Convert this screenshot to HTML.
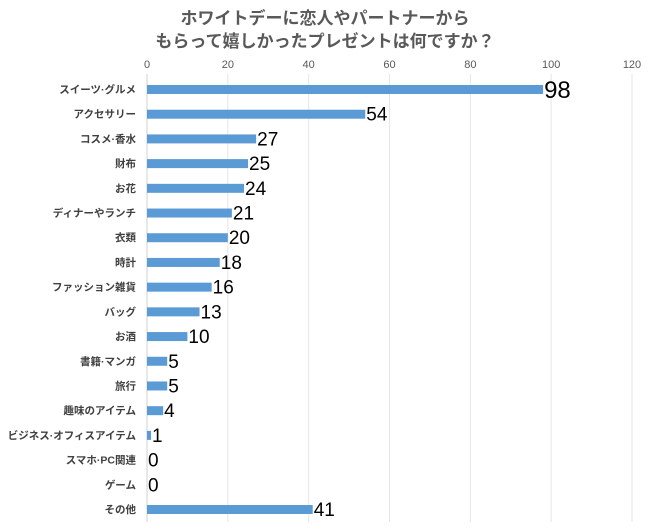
<!DOCTYPE html>
<html><head><meta charset="utf-8"><style>
body{margin:0;background:#fff}
svg{display:block;font-family:"Liberation Sans","Noto Sans CJK JP",sans-serif}
</style></head><body>
<svg id="c" width="650" height="530">
<text x="325" y="24" text-anchor="middle" font-size="17" font-weight="bold" fill="#595959">ホワイトデーに恋人やパートナーから</text>
<text x="325" y="47" text-anchor="middle" font-size="17" font-weight="bold" fill="#595959">もらって嬉しかったプレゼントは何ですか？</text>
<g id="grid"></g><g id="bars"></g>
</svg>
<script>
const categories=["スイーツ·グルメ","アクセサリー","コスメ·香水","財布","お花","ディナーやランチ","衣類","時計","ファッション雑貨","バッグ","お酒","書籍·マンガ","旅行","趣味のアイテム","ビジネス·オフィスアイテム","スマホ·PC関連","ゲーム","その他"];
const values=[98,54,27,25,24,21,20,18,16,13,10,5,5,4,1,0,0,41];
const ticks=[0,20,40,60,80,100,120];
const NS="http://www.w3.org/2000/svg";
const x0=147,x1=632,xmax=120;
const xs=v=>x0+(x1-x0)*v/xmax;
const y0=89,step=(509-89)/17;
const ys=i=>y0+i*step;
function mk(t,a,p){const e=document.createElementNS(NS,t);for(const k in a)e.setAttribute(k,a[k]);p.appendChild(e);return e;}
const g=document.getElementById('grid'),b=document.getElementById('bars');
ticks.forEach(t=>{
 const l=mk('line',{x1:xs(t),x2:xs(t),y1:74,y2:522,stroke:t===0?'#d0d0d0':'#e6e6e6','stroke-width':1},g);
 
 
 const tx=mk('text',{x:xs(t),y:68,'text-anchor':'middle','font-size':11,fill:'#595959'},g);
 tx.textContent=t;
 
 
});
categories.forEach((c,i)=>{
 const y=ys(i);
 const lb=mk('text',{x:136,y:y+4,'text-anchor':'end','font-size':10.5,'font-weight':'bold',fill:'#404040'},b);
 lb.textContent=c;
 
 
 const r=mk('rect',{x:x0,y:y-4,width:Math.max(0,xs(values[i])-x0),height:9,fill:'#5B9BD5'},b);
 
 
 const big=i===0;
 const vl=mk('text',{x:xs(values[i])+1,y:y+(big?9:7),'font-size':big?24:19,fill:'#000'},b);
 vl.textContent=values[i];
 
 
});
</script>
</body></html>
